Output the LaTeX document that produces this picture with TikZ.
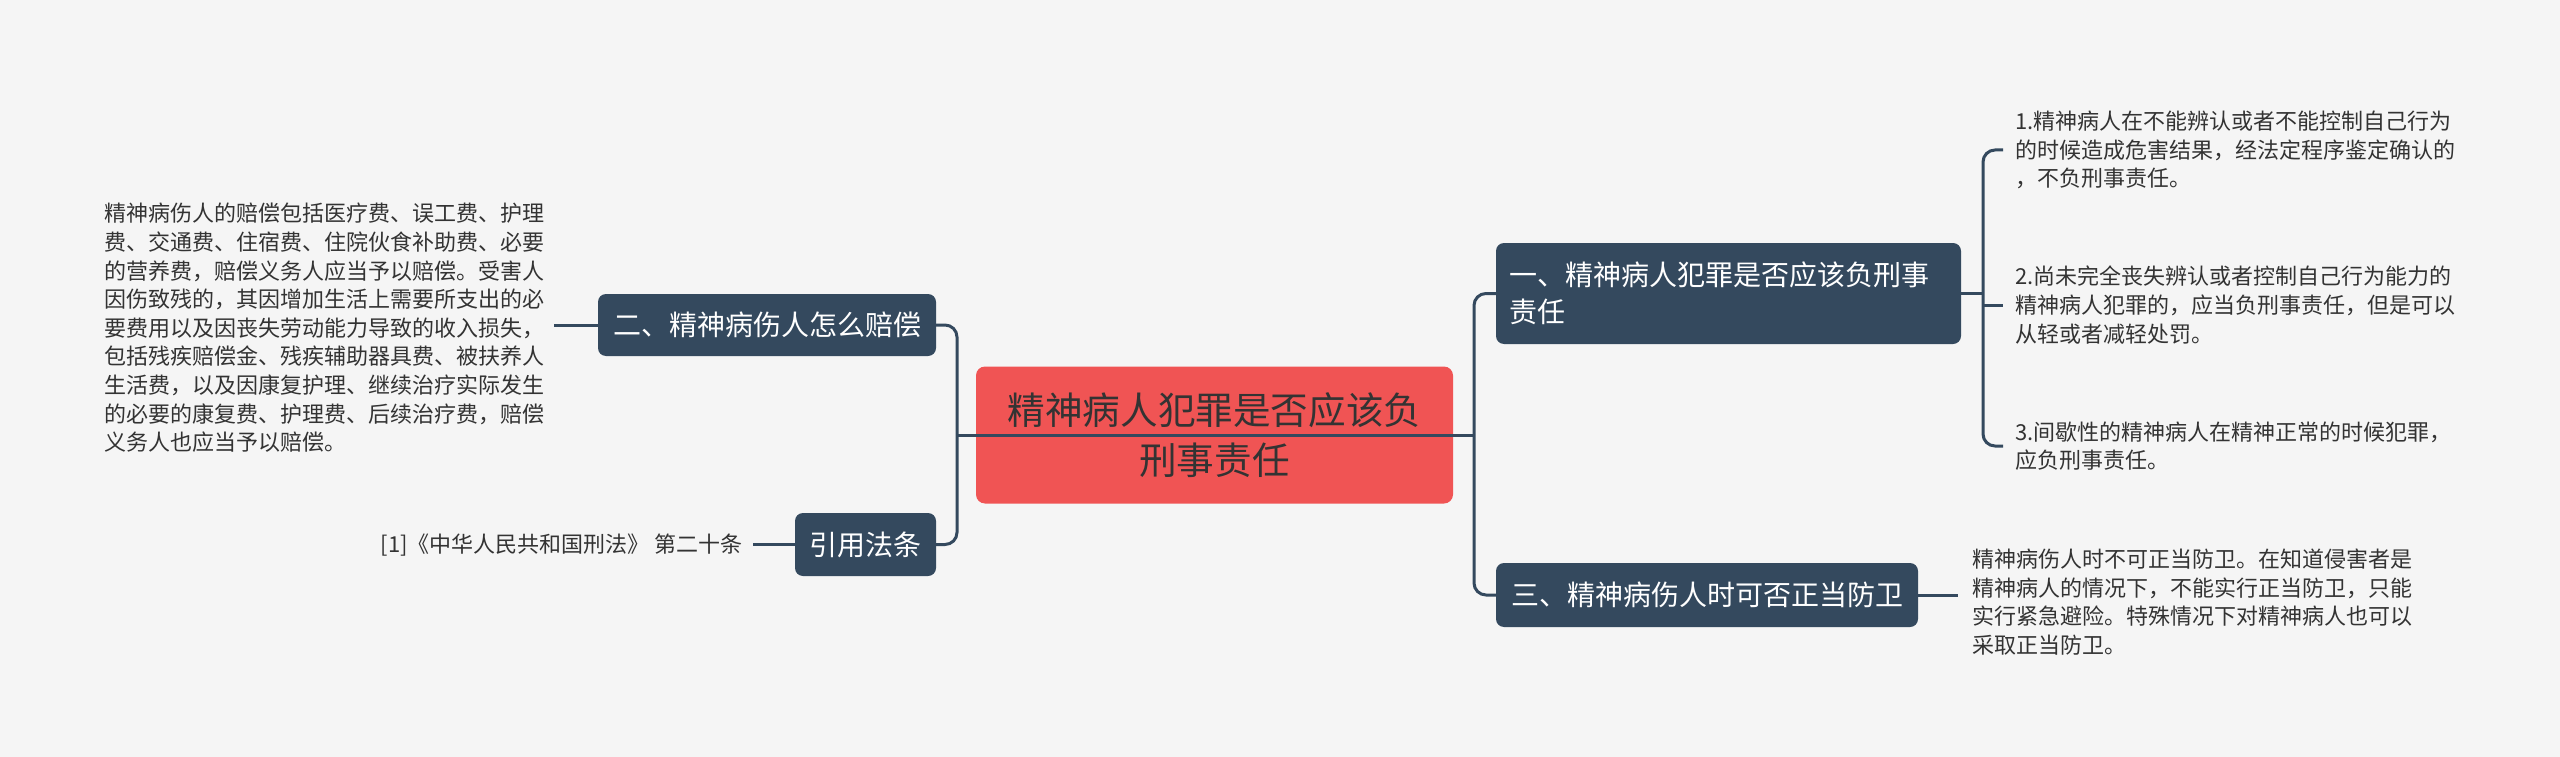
\documentclass[tikz,border=0pt]{standalone}
\usepackage{fontspec}
\setmainfont{Noto Sans CJK SC}
\definecolor{bg}{HTML}{F5F5F5}
\definecolor{nodebg}{HTML}{34495E}
\definecolor{rootbg}{HTML}{F05454}
\definecolor{txt}{HTML}{333333}
\tikzset{
  conn/.style={draw=nodebg, line width=3pt, rounded corners=12pt},
  topic/.style={fill=nodebg, text=white, rounded corners=8pt, inner sep=0pt,
     font=\fontsize{28}{37}\selectfont},
  rootbox/.style={fill=rootbg, text=txt, rounded corners=9pt, inner sep=0pt,
     align=center, font=\fontsize{37.6}{50}\selectfont},
  leaf/.style={text=txt, inner sep=0pt, align=left, anchor=west,
     font=\fontsize{22}{28.6}\selectfont}
}
\begin{document}
\begin{tikzpicture}[x=1pt,y=-1pt]
\fill[bg] (0,0) rectangle (2560,757);
\useasboundingbox (0,0) rectangle (2560,757);
% root
\node[rootbox, minimum width=477pt, minimum height=137pt] (root) at (1214.5,435)
  {精神病人犯罪是否应该负\\刑事责任};
% topics
\node[topic, minimum width=338pt, minimum height=62pt] (n2) at (767,325) {二、精神病伤人怎么赔偿};
\node[topic, minimum width=141pt, minimum height=63pt] (n4) at (865.5,544.5) {引用法条};
\node[topic, minimum width=465pt, minimum height=101pt, text width=439pt, inner xsep=13pt, align=left] (n1) at (1728.5,293.5)
  {一、精神病人犯罪是否应该负刑事\\责任};
\node[topic, minimum width=422pt, minimum height=64pt] (n3) at (1707,595) {三、精神病伤人时可否正当防卫};
% leaves
\node[leaf] (tl) at (104,328) {精神病伤人的赔偿包括医疗费、误工费、护理\\费、交通费、住宿费、住院伙食补助费、必要\\的营养费，赔偿义务人应当予以赔偿。受害人\\因伤致残的，其因增加生活上需要所支出的必\\要费用以及因丧失劳动能力导致的收入损失，\\包括残疾赔偿金、残疾辅助器具费、被扶养人\\生活费，以及因康复护理、继续治疗实际发生\\的必要的康复费、护理费、后续治疗费，赔偿\\义务人也应当予以赔偿。};
\node[leaf, anchor=east] (tr) at (743,545) {[1]《中华人民共和国刑法》 第二十条};
\node[leaf] (t1) at (2015,150) {1.精神病人在不能辨认或者不能控制自己行为\\的时候造成危害结果，经法定程序鉴定确认的\\，不负刑事责任。};
\node[leaf] (t2) at (2015,305) {2.尚未完全丧失辨认或者控制自己行为能力的\\精神病人犯罪的，应当负刑事责任，但是可以\\从轻或者减轻处罚。};
\node[leaf] (t3) at (2015,446) {3.间歇性的精神病人在精神正常的时候犯罪，\\应负刑事责任。};
\node[leaf] (t4) at (1972,602) {精神病伤人时不可正当防卫。在知道侵害者是\\精神病人的情况下，不能实行正当防卫，只能\\实行紧急避险。特殊情况下对精神病人也可以\\采取正当防卫。};
% junctions
\coordinate (jl) at (957,435);
\coordinate (jr) at (1474,435);
\coordinate (jt) at (1983,293.5);
% connectors
\draw[conn] (n2.east) -| (jl) |- (n4.east);
\draw[conn] (jl) -- (jr);
\draw[conn] (n1.west) -| (jr) |- (n3.west);
\draw[conn] (n1.east) -- (jt);
\draw[conn] ([xshift=-12pt]t1.west) -| (jt) |- ([xshift=-12pt]t3.west);
\draw[conn] (jt |- t2.west) -- ([xshift=-12pt]t2.west);
\draw[conn] (n3.east) -- ([xshift=-14pt]t4.west |- n3.east);
\draw[conn] ([xshift=10pt]tl.east |- n2.west) -- (n2.west);
\draw[conn] ([xshift=10pt]tr.east |- n4.west) -- (n4.west);
\end{tikzpicture}
\end{document}
